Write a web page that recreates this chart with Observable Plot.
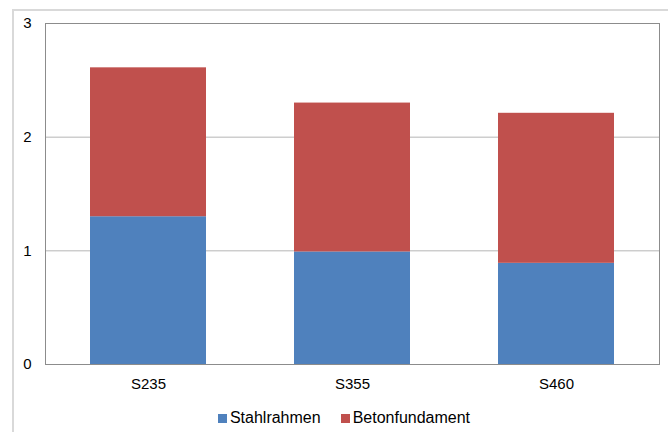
<!DOCTYPE html>
<html><head><meta charset="utf-8">
<script src="https://cdn.jsdelivr.net/npm/d3@7"></script>
<script src="https://cdn.jsdelivr.net/npm/@observablehq/plot@0.6"></script>
<style>
html,body{margin:0;padding:0;background:#fff;overflow:hidden;}
#wrap{position:relative;width:668px;height:432px;font-family:"Liberation Sans",Arial,sans-serif;}
#border{position:absolute;left:12px;top:9px;width:700px;height:460px;border:2px solid #d9d9d9;box-sizing:border-box;pointer-events:none;}
#legend{position:absolute;left:0;top:409px;width:668px;display:flex;justify-content:center;font-size:16px;color:#000;padding-left:20px;box-sizing:border-box;}
.item{display:flex;align-items:center;margin:0 10px;}
.sw{width:9px;height:9px;margin-right:3px;}
</style></head>
<body><div id="wrap"><div id="chart"></div><div id="legend"></div><div id="border"></div></div>
<script>
const categories = ["S235", "S355", "S460"];
const seriesNames = ["Stahlrahmen", "Betonfundament"];
const stahlrahmen = [1.30, 0.99, 0.89];
const betonfundament = [1.31, 1.31, 1.32];
const yTicks = [0, 1, 2, 3];
const colors = ["#4f81bd", "#c0504d"];

const rows = [];
categories.forEach((c, i) => {
  rows.push({cat: c, series: seriesNames[0], value: stahlrahmen[i]});
  rows.push({cat: c, series: seriesNames[1], value: betonfundament[i]});
});

const chart = Plot.plot({
  width: 668, height: 400,
  marginLeft: 45, marginRight: 9, marginTop: 23, marginBottom: 36,
  style: {fontFamily: '"Liberation Sans", Arial, sans-serif', fontSize: "15px", color: "#000", background: "transparent"},
  x: {domain: categories, paddingInner: 0.43, paddingOuter: 0.215, label: null, tickSize: 0, tickPadding: 14},
  y: {domain: [0, 3], ticks: yTicks, label: null, tickSize: 0, tickPadding: 14, tickFormat: d3.format("d")},
  color: {domain: seriesNames, range: colors},
  marks: [
    Plot.ruleY([1, 2], {stroke: "#b5b5b5", strokeOpacity: 1}),
    Plot.barY(rows, {x: "cat", y: "value", fill: "series", order: seriesNames}),
    Plot.frame({stroke: "#8c8c8c", strokeOpacity: 1})
  ]
});
document.getElementById("chart").appendChild(chart);

const leg = document.getElementById("legend");
seriesNames.forEach((s, i) => {
  const it = document.createElement("div"); it.className = "item";
  const sw = document.createElement("div"); sw.className = "sw"; sw.style.background = colors[i];
  const t = document.createElement("span"); t.textContent = s;
  it.appendChild(sw); it.appendChild(t); leg.appendChild(it);
});
</script></body></html>
